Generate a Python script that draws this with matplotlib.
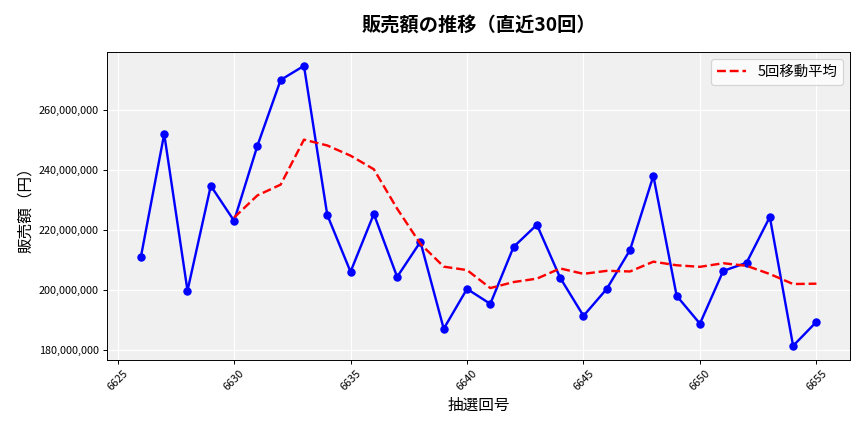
import numpy as np
import pandas as pd
import matplotlib
matplotlib.use("Agg")
import matplotlib.pyplot as plt
from matplotlib.ticker import FuncFormatter

plt.rcParams["font.family"] = ["Noto Sans CJK JP", "DejaVu Sans"]
plt.rcParams["axes.unicode_minus"] = False

draws = list(range(6626, 6656))
sales = [
    211.0, 252.0, 199.7, 234.7, 223.0, 248.0, 270.0, 274.7, 225.0, 206.0,
    225.3, 204.3, 216.0, 187.0, 200.3, 195.3, 214.3, 221.7, 204.0, 191.3,
    200.3, 213.3, 238.0, 198.0, 188.7, 206.3, 209.0, 224.3, 181.3, 189.3,
]
sales = [v * 1_000_000 for v in sales]

df = pd.DataFrame({"draw": draws, "sales": sales})
df["ma5"] = df["sales"].rolling(5).mean()

fig, ax = plt.subplots(figsize=(10, 5), dpi=86.4)
ax.set_facecolor("#f0f0f0")
ax.grid(True, color="white", linewidth=1)
ax.set_axisbelow(True)

ax.plot(df["draw"], df["sales"], color="blue", marker="o", markersize=6, linewidth=2)
ax.plot(df["draw"], df["ma5"], color="red", linestyle="--", linewidth=2, label="5回移動平均")

ax.yaxis.set_major_formatter(FuncFormatter(lambda v, p: f"{int(v):,}"))
ax.tick_params(axis="both", labelsize=9)
plt.setp(ax.get_xticklabels(), rotation=45)

ax.set_title("販売額の推移（直近30回）", fontsize=16, fontweight="bold", pad=18)
ax.set_xlabel("抽選回号", fontsize=13)
ax.set_ylabel("販売額（円）", fontsize=13)
ax.legend(fontsize=12, loc="upper right")

fig.subplots_adjust(left=0.124, right=0.984, top=0.880, bottom=0.167)
fig.savefig("out.png", dpi=86.4)
